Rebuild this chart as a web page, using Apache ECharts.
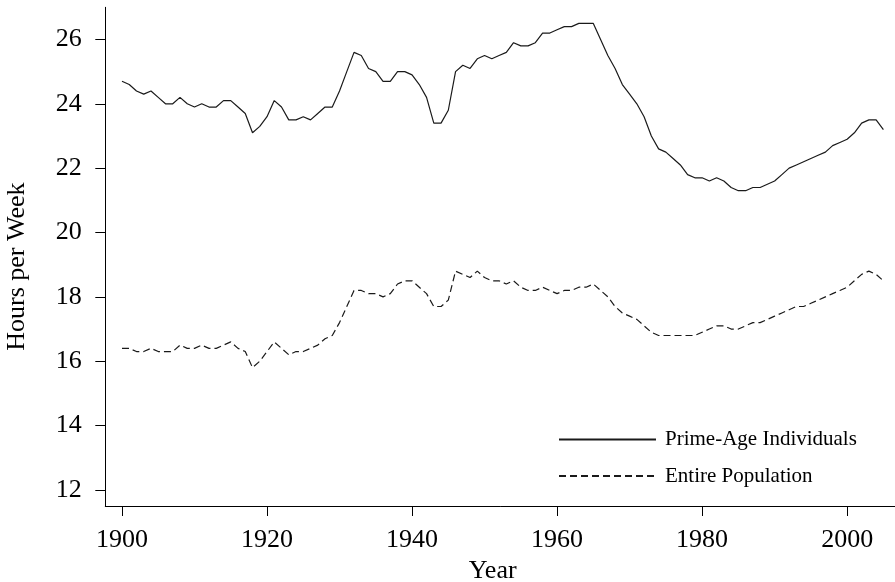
<!DOCTYPE html>
<html>
<head>
<meta charset="utf-8">
<script src="https://cdn.jsdelivr.net/npm/echarts@6/dist/echarts.min.js"></script>
<style>
html,body{margin:0;padding:0;background:#fff;}
#chart{width:895px;height:582px;}
</style>
</head>
<body>
<div id="chart"></div>
<script>
var years = [];
for (var y = 1900; y <= 2005; y++) years.push(y);

var primeAge = [
24.7,24.6,24.4,24.3,24.4,24.2,24.0,24.0,24.2,24.0,
23.9,24.0,23.9,23.9,24.1,24.1,23.9,23.7,23.1,23.3,
23.6,24.1,23.9,23.5,23.5,23.6,23.5,23.7,23.9,23.9,
24.4,25.0,25.6,25.5,25.1,25.0,24.7,24.7,25.0,25.0,
24.9,24.6,24.2,23.4,23.4,23.8,25.0,25.2,25.1,25.4,
25.5,25.4,25.5,25.6,25.9,25.8,25.8,25.9,26.2,26.2,
26.3,26.4,26.4,26.5,26.5,26.5,26.0,25.5,25.1,24.6,
24.3,24.0,23.6,23.0,22.6,22.5,22.3,22.1,21.8,21.7,
21.7,21.6,21.7,21.6,21.4,21.3,21.3,21.4,21.4,21.5,
21.6,21.8,22.0,22.1,22.2,22.3,22.4,22.5,22.7,22.8,
22.9,23.1,23.4,23.5,23.5,23.2
];

var entirePop = [
16.4,16.4,16.3,16.3,16.4,16.3,16.3,16.3,16.5,16.4,
16.4,16.5,16.4,16.4,16.5,16.6,16.4,16.3,15.8,16.0,
16.3,16.6,16.4,16.2,16.3,16.3,16.4,16.5,16.7,16.8,
17.2,17.7,18.2,18.2,18.1,18.1,18.0,18.1,18.4,18.5,
18.5,18.3,18.1,17.7,17.7,17.9,18.8,18.7,18.6,18.8,
18.6,18.5,18.5,18.4,18.5,18.3,18.2,18.2,18.3,18.2,
18.1,18.2,18.2,18.3,18.3,18.4,18.2,18.0,17.7,17.5,
17.4,17.3,17.1,16.9,16.8,16.8,16.8,16.8,16.8,16.8,
16.9,17.0,17.1,17.1,17.0,17.0,17.1,17.2,17.2,17.3,
17.4,17.5,17.6,17.7,17.7,17.8,17.9,18.0,18.1,18.2,
18.3,18.5,18.7,18.8,18.7,18.5
];

var xTicks = [1900, 1920, 1940, 1960, 1980, 2000];
var yTicks = [12, 14, 16, 18, 20, 22, 24, 26];

var seriesNames = ['Prime-Age Individuals', 'Entire Population'];

function pairs(xs, vs) {
  return xs.map(function (x, i) { return [x, vs[i]]; });
}

var FONT = 'Liberation Serif';
var chart = echarts.init(document.getElementById('chart'), null, {renderer: 'canvas'});
chart.setOption({
  backgroundColor: '#ffffff',
  animation: false,
  grid: {left: 105.3, top: 7.3, right: 0, bottom: 76, containLabel: false, outerBoundsMode: 'none'},
  legend: {
    orient: 'vertical',
    left: 553,
    top: 424,
    itemWidth: 97,
    itemHeight: 20,
    itemGap: 15.5,
    itemStyle: {opacity: 0},
    lineStyle: {opacity: 1},
    textStyle: {fontFamily: FONT, fontSize: 21, color: '#000', padding: [0, 0, 0, 4]},
    data: seriesNames
  },
  xAxis: {
    type: 'value',
    min: 1897.7,
    max: 2006.6,
    splitLine: {show: false},
    axisLine: {show: true, lineStyle: {color: '#000', width: 1}},
    axisTick: {show: true, length: 10, lineStyle: {color: '#000'}, customValues: xTicks},
    axisLabel: {customValues: xTicks, formatter: function (v) { return String(v); },
      fontFamily: FONT, fontSize: 26, color: '#000', margin: 21},
    name: 'Year',
    nameLocation: 'middle',
    nameGap: 52,
    nameTextStyle: {fontFamily: FONT, fontSize: 26, color: '#000', padding: [0, 15, 0, 0]}
  },
  yAxis: {
    type: 'value',
    min: 11.5,
    max: 27,
    splitLine: {show: false},
    axisLine: {show: true, lineStyle: {color: '#000', width: 1}},
    axisTick: {show: true, length: 10, lineStyle: {color: '#000'}, customValues: yTicks},
    axisLabel: {customValues: yTicks, formatter: function (v) { return String(v); },
      fontFamily: FONT, fontSize: 26, color: '#000', margin: 23.6},
    name: 'Hours per Week',
    nameLocation: 'middle',
    nameGap: 75,
    nameTextStyle: {fontFamily: FONT, fontSize: 26, color: '#000', padding: [0, 20, 0, 0]}
  },
  series: [
    {
      name: seriesNames[0],
      type: 'line',
      symbol: 'none',
      data: pairs(years, primeAge),
      lineStyle: {color: '#1a1a1a', width: 1.2, type: 'solid'},
      itemStyle: {color: '#1a1a1a'}
    },
    {
      name: seriesNames[1],
      type: 'line',
      symbol: 'none',
      data: pairs(years, entirePop),
      lineStyle: {color: '#1a1a1a', width: 1.2, type: [7, 4]},
      itemStyle: {color: '#1a1a1a'}
    }
  ]
});
</script>
</body>
</html>
